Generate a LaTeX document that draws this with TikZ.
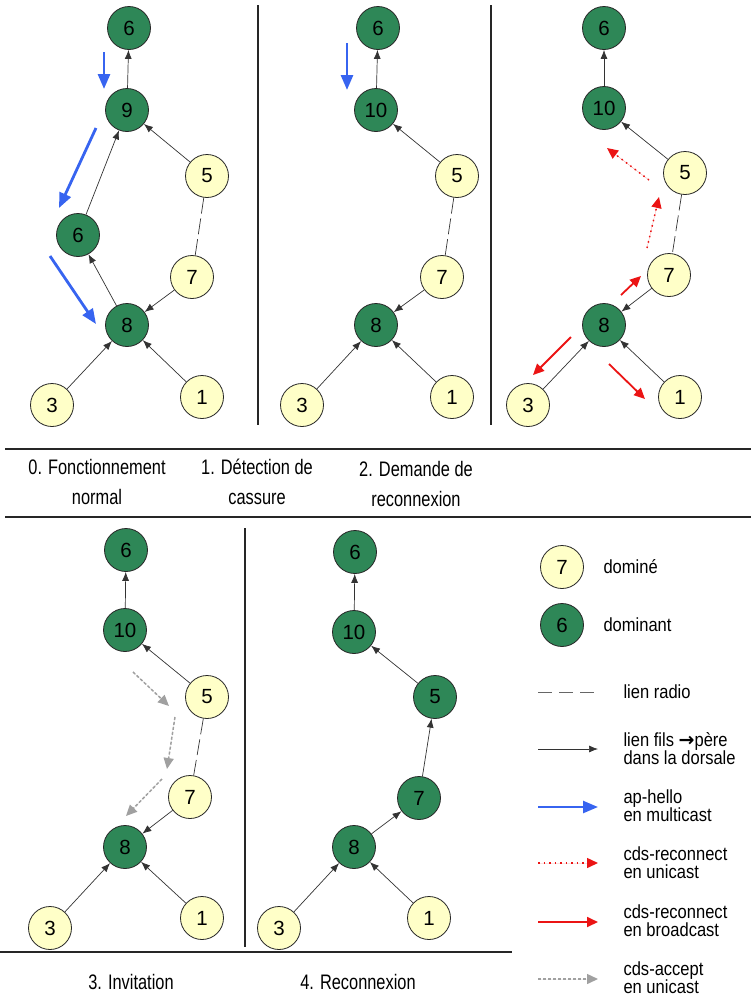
\documentclass[tikz,border=0pt]{standalone}
\usepackage{fontspec}
\setmainfont[FakeStretch=0.78]{Liberation Sans}
\newfontfamily\numfont{Liberation Sans}
\newfontfamily\arrfont{DejaVu Sans}
\newfontfamily\legfont[FakeStretch=0.87]{Liberation Sans}
\usetikzlibrary{arrows.meta}
\definecolor{domgreen}{RGB}{46,135,87}
\definecolor{subyellow}{RGB}{255,255,200}
\definecolor{helloblue}{RGB}{55,100,240}
\definecolor{cdsred}{RGB}{235,20,20}
\definecolor{acceptgray}{RGB}{160,160,160}
\begin{document}
\begin{tikzpicture}[x=1pt,y=-1pt,
 nd/.style={circle,draw=black!85,line width=0.8pt,minimum size=43pt,inner sep=0pt,font=\numfont\fontsize{20.5}{20}\selectfont},
 dom/.style={nd,fill=domgreen},
 sub/.style={nd,fill=subyellow},
 tree/.style={draw=black!80,line width=0.7pt,-{Latex[length=9pt,width=7pt]}},
 radio/.style={draw=black!80,line width=0.7pt,dash pattern=on 16pt off 5pt},
 hello/.style={draw=helloblue,fill=helloblue,line width=2.8pt,-{Triangle[length=15pt,width=12pt]}},
 rbcast/.style={draw=cdsred,fill=cdsred,line width=1.8pt,-{Triangle[length=11pt,width=10pt]}},
 runi/.style={draw=cdsred,fill=cdsred,line width=1.5pt,dash pattern=on 1.5pt off 4pt,-{Triangle[length=11pt,width=10pt,sep=0pt]}},
 accept/.style={draw=acceptgray,fill=acceptgray,line width=1.5pt,dash pattern=on 3pt off 2pt,-{Triangle[length=11pt,width=10pt]}},
 sepline/.style={draw=black!85,line width=1.5pt},
 captxt/.style={align=center,font=\fontsize{21}{30}\selectfont},
 legtxt/.style={anchor=west,align=left,font=\legfont\fontsize{19}{18}\selectfont},
]
\useasboundingbox (0,0) rectangle (751,1005);

% separators
\coordinate (v1t) at (258,5); \coordinate (v1b) at (258,425);
\coordinate (v2t) at (491,5); \coordinate (v2b) at (491,425);
\coordinate (h1l) at (5,449); \coordinate (h1r) at (751,449);
\coordinate (h2l) at (5,517); \coordinate (h2r) at (751,517);
\coordinate (v3t) at (245,528); \coordinate (v3b) at (245,947);
\coordinate (h3l) at (0,952); \coordinate (h3r) at (512,952);
\draw[sepline] (v1t) -- (v1b);
\draw[sepline] (v2t) -- (v2b);
\draw[sepline] (h1l) -- (h1r);
\draw[sepline] (h2l) -- (h2r);
\draw[sepline] (v3t) -- (v3b);
\draw[sepline] (h3l) -- (h3r);

% ---------- panel 0 ----------
\node[dom] (a6)  at (129,28) {6};
\node[dom] (a9)  at (127,110) {9};
\node[sub] (a5)  at (207,176) {5};
\node[dom] (a6b) at (78,235) {6};
\node[sub] (a7)  at (192,277) {7};
\node[dom] (a8)  at (127,325) {8};
\node[sub] (a3)  at (52,405) {3};
\node[sub] (a1)  at (202,397) {1};
\draw[tree] (a9) -- (a6);
\draw[tree] (a6b) -- (a9);
\draw[tree] (a5) -- (a9);
\draw[radio] (a5) -- (a7);
\draw[tree] (a7) -- (a8);
\draw[tree] (a8) -- (a6b);
\draw[tree] (a3) -- (a8);
\draw[tree] (a1) -- (a8);
\coordinate (ah1s) at (104,52); \coordinate (ah1e) at (104,89);
\coordinate (ah2s) at (96,128); \coordinate (ah2e) at (59,208);
\coordinate (ah3s) at (50,256); \coordinate (ah3e) at (96,324);
\draw[hello] (ah1s) -- (ah1e);
\draw[hello] (ah2s) -- (ah2e);
\draw[hello] (ah3s) -- (ah3e);

% ---------- panel 1 ----------
\node[dom] (b6)  at (378,28) {6};
\node[dom] (b10) at (376,110) {10};
\node[sub] (b5)  at (457,176) {5};
\node[sub] (b7)  at (442,277) {7};
\node[dom] (b8)  at (376,325) {8};
\node[sub] (b3)  at (302,405) {3};
\node[sub] (b1)  at (452,397) {1};
\draw[tree] (b10) -- (b6);
\draw[tree] (b5) -- (b10);
\draw[radio] (b5) -- (b7);
\draw[tree] (b7) -- (b8);
\draw[tree] (b3) -- (b8);
\draw[tree] (b1) -- (b8);
\coordinate (bh1s) at (347,43); \coordinate (bh1e) at (347,90);
\draw[hello] (bh1s) -- (bh1e);

% ---------- panel 2 ----------
\node[dom] (c6)  at (604,28) {6};
\node[dom] (c10) at (604,108) {10};
\node[sub] (c5)  at (685,173) {5};
\node[sub] (c7)  at (669,275) {7};
\node[dom] (c8)  at (604,325) {8};
\node[sub] (c3)  at (528,405) {3};
\node[sub] (c1)  at (680,397) {1};
\draw[tree] (c10) -- (c6);
\draw[tree] (c5) -- (c10);
\draw[radio] (c5) -- (c7);
\draw[tree] (c7) -- (c8);
\draw[tree] (c3) -- (c8);
\draw[tree] (c1) -- (c8);
\coordinate (cu1s) at (649,180); \coordinate (cu1e) at (607,148);
\coordinate (cu2s) at (647,248); \coordinate (cu2e) at (659,197);
\draw[runi] (cu1s) -- (cu1e);
\draw[runi] (cu2s) -- (cu2e);
\coordinate (cb1s) at (621,295); \coordinate (cb1e) at (641,276);
\coordinate (cb2s) at (571,337); \coordinate (cb2e) at (533,375);
\coordinate (cb3s) at (609,364); \coordinate (cb3e) at (645,399);
\draw[rbcast] (cb1s) -- (cb1e);
\draw[rbcast] (cb2s) -- (cb2e);
\draw[rbcast] (cb3s) -- (cb3e);

% captions top
\node[captxt] (t0) at (97,482) {0. Fonctionnement\\normal};
\node[captxt] (t1) at (257,482) {1. Détection de\\cassure};
\node[captxt] (t2) at (416,484) {2. Demande de\\reconnexion};

% ---------- panel 3 ----------
\node[dom] (d6)  at (126,550) {6};
\node[dom] (d10) at (125,630) {10};
\node[sub] (d5)  at (207,697) {5};
\node[sub] (d7)  at (190,797) {7};
\node[dom] (d8)  at (125,847) {8};
\node[sub] (d3)  at (50,928) {3};
\node[sub] (d1)  at (202,918) {1};
\draw[tree] (d10) -- (d6);
\draw[tree] (d5) -- (d10);
\draw[radio] (d5) -- (d7);
\draw[tree] (d7) -- (d8);
\draw[tree] (d3) -- (d8);
\draw[tree] (d1) -- (d8);
\coordinate (da1s) at (133,672); \coordinate (da1e) at (169,706);
\coordinate (da2s) at (175,717); \coordinate (da2e) at (167,769);
\coordinate (da3s) at (162,779); \coordinate (da3e) at (126,816);
\draw[accept] (da1s) -- (da1e);
\draw[accept] (da2s) -- (da2e);
\draw[accept] (da3s) -- (da3e);
\node[captxt] (t3) at (131,982) {3. Invitation};

% ---------- panel 4 ----------
\node[dom] (e6)  at (355,552) {6};
\node[dom] (e10) at (354,632) {10};
\node[dom] (e5)  at (435,697) {5};
\node[dom] (e7)  at (419,798) {7};
\node[dom] (e8)  at (354,847) {8};
\node[sub] (e3)  at (279,928) {3};
\node[sub] (e1)  at (429,918) {1};
\draw[tree] (e10) -- (e6);
\draw[tree] (e5) -- (e10);
\draw[tree] (e7) -- (e5);
\draw[tree] (e8) -- (e7);
\draw[tree] (e3) -- (e8);
\draw[tree] (e1) -- (e8);
\node[captxt] (t4) at (358,982) {4. Reconnexion};

% ---------- legend ----------
\node[sub] (l7) at (562,567) {7};
\node[legtxt] (l7t) at (600,567) {dominé};
\node[dom] (l6) at (562,625) {6};
\node[legtxt] (l6t) at (600,625) {dominant};
\coordinate (lr1) at (538,692); \coordinate (lr2) at (598,692);
\draw[radio,draw=black!60,line width=1pt,dash pattern=on 14pt off 7pt] (lr1) -- (lr2);
\node[legtxt] (lrt) at (620,692) {lien radio};
\coordinate (lk1) at (538,749); \coordinate (lk2) at (598,749);
\draw[tree] (lk1) -- (lk2);
\node[legtxt] (lkt) at (620,749) {lien fils {\arrfont\bfseries →}père\\dans la dorsale};
\coordinate (lb1) at (538,807); \coordinate (lb2) at (598,807);
\draw[hello,line width=2.5pt] (lb1) -- (lb2);
\node[legtxt] (lbt) at (620,806) {ap-hello\\en multicast};
\coordinate (lu1) at (538,863); \coordinate (lu2) at (598,863);
\draw[runi] (lu1) -- (lu2);
\node[legtxt] (lut) at (620,863) {cds-reconnect\\en unicast};
\coordinate (lc1) at (538,922); \coordinate (lc2) at (598,922);
\draw[rbcast] (lc1) -- (lc2);
\node[legtxt] (lct) at (620,921) {cds-reconnect\\en broadcast};
\coordinate (la1) at (538,979); \coordinate (la2) at (598,979);
\draw[accept] (la1) -- (la2);
\node[legtxt] (lat) at (620,978) {cds-accept\\en unicast};
\end{tikzpicture}
\end{document}
